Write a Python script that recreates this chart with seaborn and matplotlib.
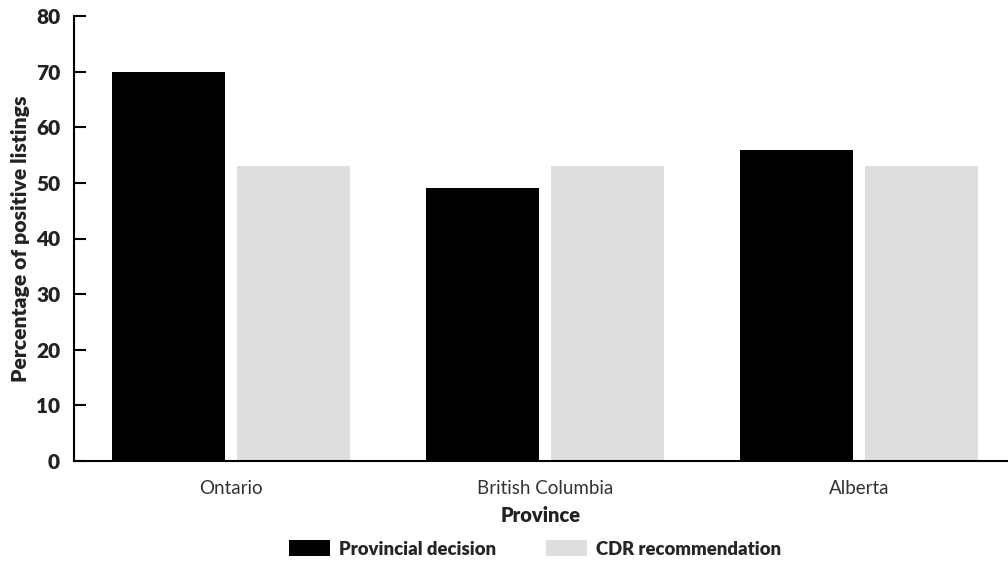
import matplotlib
matplotlib.use("Agg")
import matplotlib.pyplot as plt
import seaborn as sns
import pandas as pd
from matplotlib.patches import Patch

provinces = ["Ontario", "British Columbia", "Alberta"]
series_names = ["Provincial decision", "CDR recommendation"]
provincial_decision = [70, 49, 56]
cdr_recommendation = [53, 53, 53]
y_ticks = [0, 10, 20, 30, 40, 50, 60, 70, 80]
colors = ["#000000", "#dedede"]

df = pd.DataFrame({
    "Province": provinces * 2,
    "Series": [series_names[0]] * 3 + [series_names[1]] * 3,
    "Value": provincial_decision + cdr_recommendation,
})

sns.set_theme(style="white")
plt.rcParams["font.family"] = ["Lato", "DejaVu Sans"]

fig = plt.figure(figsize=(10.08, 5.64), dpi=100)
ax = fig.add_axes([74 / 1008, 103 / 564, 1 - 74 / 1008, 445 / 564])

sns.barplot(data=df, x="Province", y="Value", hue="Series", palette=colors,
            width=0.796, gap=0.096, ax=ax, legend=False, saturation=1, linewidth=0)

ax.set_ylim(0, 80)
ax.set_xlim(-0.5, 2.475)
ax.set_yticks(y_ticks)
ax.set_yticklabels([str(t) for t in y_ticks], fontsize=15, fontweight="heavy", color="#222222")
ax.set_xticks([0, 1, 2])
ax.set_xticklabels(provinces, fontsize=13.5, fontweight="normal", color="#333333")
ax.set_xticks([0.5, 1.5], minor=True)
ax.tick_params(axis="x", which="major", length=0, pad=14)
ax.tick_params(axis="x", which="minor", direction="in", length=7, width=1.5, color="black")
ax.tick_params(axis="y", direction="in", length=8.5, width=1.5, color="black", pad=10, left=True)

for s in ["top", "right"]:
    ax.spines[s].set_visible(False)
for s in ["left", "bottom"]:
    ax.spines[s].set_color("black")
    ax.spines[s].set_linewidth(1.5)

ax.set_xlabel("Province", fontsize=14.5, fontweight="heavy", labelpad=6, color="#222222")
ax.set_ylabel("Percentage of positive listings", fontsize=15.2, fontweight="heavy", labelpad=4,
              color="#222222")

handles = [Patch(facecolor=c, edgecolor="none") for c in colors]
fig.legend(handles, series_names, loc="center", bbox_to_anchor=(535 / 1008, 1 - 549 / 564),
           ncol=2, frameon=False, handlelength=2.2, handleheight=0.9,
           columnspacing=2.7, handletextpad=0.5,
           prop={"weight": "heavy", "size": 13.3})

fig.savefig("out.png", dpi=100)
